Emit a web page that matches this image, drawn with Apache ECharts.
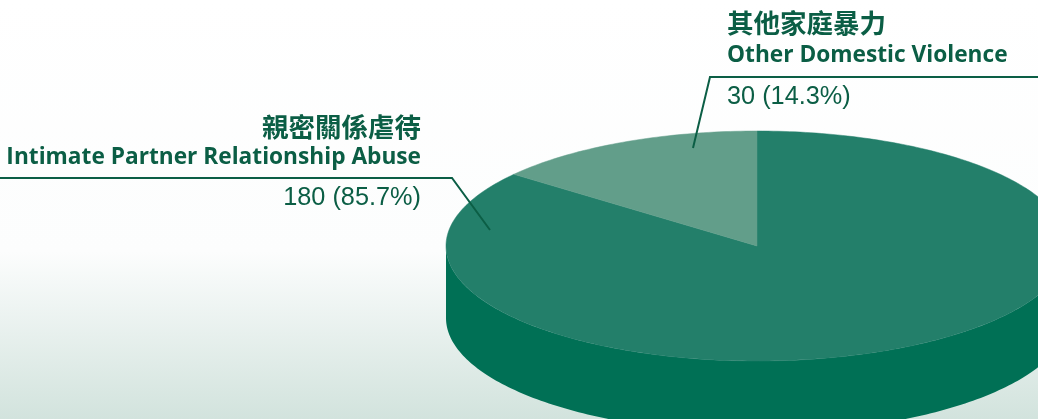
<!DOCTYPE html>
<html>
<head>
<meta charset="utf-8">
<script src="https://cdn.jsdelivr.net/npm/echarts@6/dist/echarts.min.js"></script>
<style>
html,body{margin:0;padding:0;background:#fff;}
#chart{width:1038px;height:419px;}
</style>
</head>
<body>
<div id="chart"></div>
<script>
// ---- data ----
const categoriesZh = ['親密關係虐待', '其他家庭暴力'];
const categoriesEn = ['Intimate Partner Relationship Abuse', 'Other Domestic Violence'];
const values = [180, 30];

// ---- styling / layout ----
const topColors = ['#237F6A', '#629E8A'];
const sideColor = '#007055';
const textColor = '#0B5E45';
const pie = { cx: 757, cy: 246, rx: 311, ry: 115, depth: 72 };
const labelLayout = [
  { x: 421, align: 'right', yZh: 127, yEn: 158, yNum: 198,
    line: [[0, 178], [452, 178], [490, 230]] },
  { x: 727, align: 'left', yZh: 23, yEn: 56, yNum: 97,
    line: [[1038, 77], [710, 77], [693, 148]] }
];

const total = values.reduce((a, b) => a + b, 0);
const startAngles = [];
(function () { let acc = 0; values.forEach(v => { startAngles.push(acc / total * 360); acc += v; }); })();

function pt(deg, dy) {
  const r = deg * Math.PI / 180;
  return [pie.cx + pie.rx * Math.sin(r), pie.cy - pie.ry * Math.cos(r) + (dy || 0)];
}
function arcPoints(a0, a1, dy) {
  const pts = [];
  const n = Math.max(2, Math.ceil(Math.abs(a1 - a0)));
  for (let i = 0; i <= n; i++) pts.push(pt(a0 + (a1 - a0) * i / n, dy));
  return pts;
}

function renderTop(params, api) {
  const i = params.dataIndex;
  const v = api.value(0);
  const a0 = startAngles[i];
  const a1 = a0 + v / total * 360;
  const pts = [[pie.cx, pie.cy]].concat(arcPoints(a0, a1, 0));
  return { type: 'polygon', shape: { points: pts }, style: { fill: topColors[i], stroke: topColors[i], lineWidth: 0.5 } };
}
function renderSide(params, api) {
  const i = params.dataIndex;
  const v = api.value(0);
  const a0 = Math.max(startAngles[i], 90);
  const a1 = Math.min(startAngles[i] + v / total * 360, 270);
  if (a1 <= a0) return null;
  const topEdge = arcPoints(a0, a1, 0);
  const botEdge = arcPoints(a1, a0, pie.depth);
  return { type: 'polygon', shape: { points: topEdge.concat(botEdge) }, style: { fill: sideColor } };
}

const labelElements = [];
values.forEach((v, i) => {
  const L = labelLayout[i];
  const pct = (v / total * 100).toFixed(1) + '%';
  labelElements.push(
    { type: 'text', z: 10, style: { text: categoriesZh[i], x: L.x, y: L.yZh, fill: textColor,
      font: 'bold 26.5px "Noto Sans CJK TC"', align: L.align, textAlign: L.align, verticalAlign: 'middle', textVerticalAlign: 'middle' } },
    { type: 'text', z: 10, style: { text: categoriesEn[i], x: L.x, y: L.yEn, fill: textColor,
      font: 'bold 22.7px "Open Sans"', align: L.align, textAlign: L.align, verticalAlign: 'middle', textVerticalAlign: 'middle' } },
    { type: 'text', z: 10, style: { text: v + ' (' + pct + ')', x: L.x, y: L.yNum, fill: textColor,
      font: '25.3px "Liberation Sans"', align: L.align, textAlign: L.align, verticalAlign: 'middle', textVerticalAlign: 'middle' } },
    { type: 'polyline', z: 10, shape: { points: L.line }, style: { stroke: textColor, lineWidth: 2, fill: null } }
  );
});

const chart = echarts.init(document.getElementById('chart'), null, { renderer: 'canvas' });
chart.setOption({
  animation: false,
  backgroundColor: '#ffffff',
  graphic: [
    { type: 'rect', z: -10, shape: { x: 0, y: 0, width: 1038, height: 419 },
      style: { fill: new echarts.graphic.LinearGradient(0, 0, 0, 1, [
        { offset: 0, color: '#ffffff' },
        { offset: 0.6, color: '#fcfdfd' },
        { offset: 1, color: '#d2e3dd' }
      ]) } }
  ].concat(labelElements),
  series: [
    { type: 'custom', coordinateSystem: 'none', z: 2, silent: true,
      data: values.map(v => [v]), renderItem: renderSide },
    { type: 'custom', coordinateSystem: 'none', z: 3, silent: true,
      data: values.map(v => [v]), renderItem: renderTop }
  ]
});
</script>
</body>
</html>
